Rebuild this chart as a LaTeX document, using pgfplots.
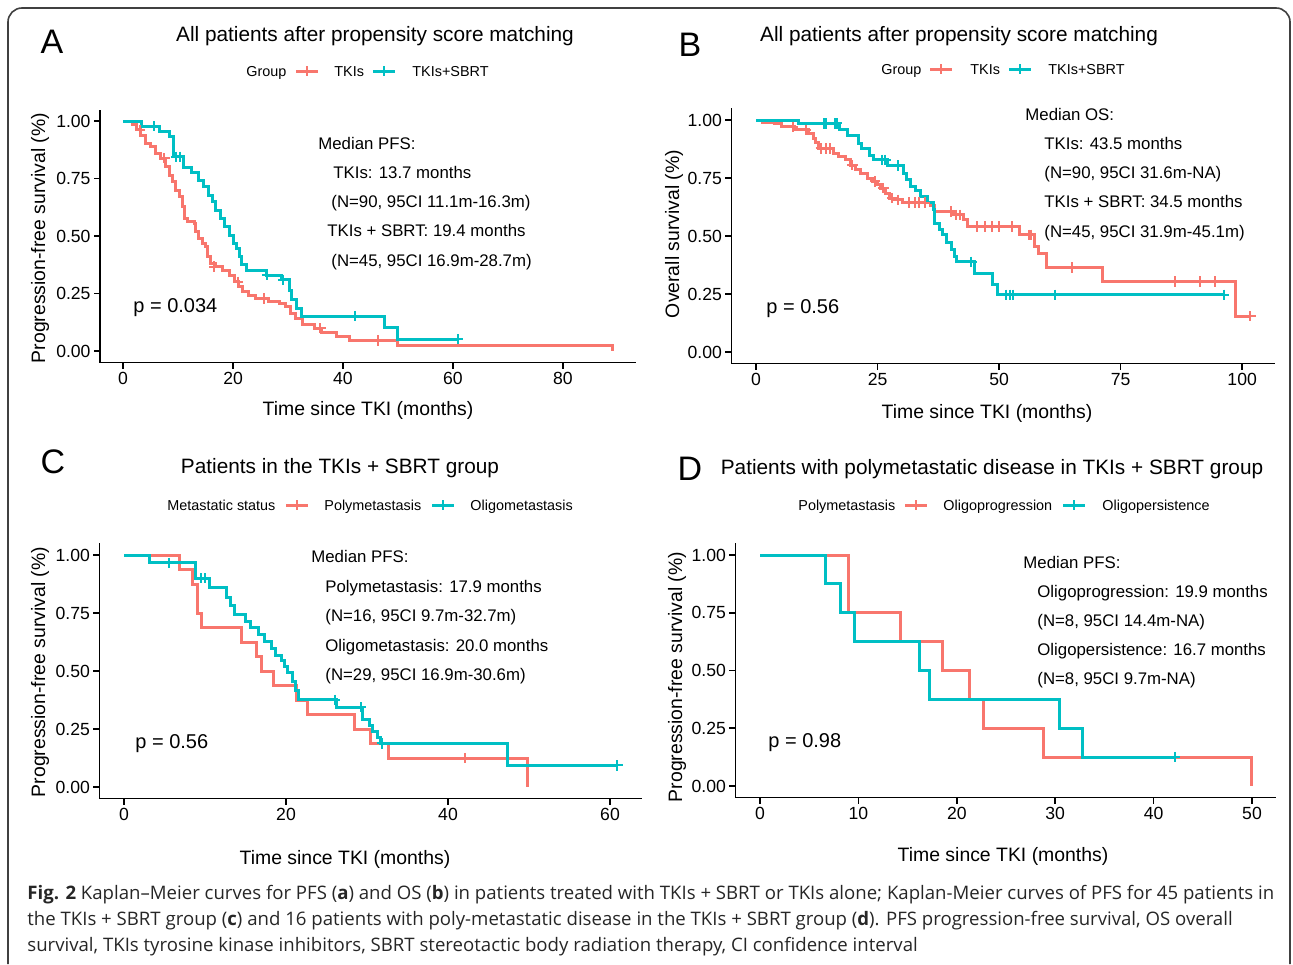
\documentclass[border=0pt]{standalone}
\usepackage{pgfplots}
\pgfplotsset{compat=1.18}
\usepackage{fontspec}
\setmainfont{Liberation Sans}
\newfontfamily\capfont{Open Sans}
\definecolor{kmred}{HTML}{F8766D}
\definecolor{kmcyan}{HTML}{00BFC4}

\newcommand\ftitle{\fontsize{10.4}{12}\selectfont}
\newcommand\fleg{\fontsize{7.2}{8.5}\selectfont}
\newcommand\fann{\fontsize{8.4}{10}\selectfont}
\newcommand\fp{\fontsize{10}{12}\selectfont}
\newcommand\flab{\fontsize{9.7}{11.5}\selectfont}
\newcommand\fletter{\fontsize{17}{20}\selectfont}

\pgfplotsset{
  km/.style={
    scale only axis,
    axis x line*=bottom, axis y line*=left,
    axis line style={line width=0.8pt, -},
    tick style={line width=0.8pt, black},
    tick align=outside,
    major tick length=3pt,
    ymin=-0.05, ymax=1.05,
    ytick={0,0.25,0.5,0.75,1},
    yticklabels={0.00,0.25,0.50,0.75,1.00},
    tick label style={font=\fontsize{8.8}{10}\selectfont},
    yticklabel style={xshift=1.8pt},
    xticklabel style={yshift=1.8pt},
    clip=false,
  },
  kmline/.style={const plot, no marks, line width=1.5pt, #1},
  kmcens/.style={only marks, mark=+, mark size=2.6pt, #1, mark options={line width=1pt}},
}

\begin{document}
\begin{tikzpicture}
\useasboundingbox (0,0) rectangle (646.5pt,-482pt);
\begin{scope}[x=0.5pt,y=-0.5pt]
  \draw[black!75, line width=0.8pt, rounded corners=7pt] (8,964) -- (8,8) -- (1290,8) -- (1290,964);
  % panel letters
  \node[anchor=base, inner sep=0, font=\fletter] at (52,53) {A};
  \node[anchor=base, inner sep=0, font=\fletter] at (690,56) {B};
  \node[anchor=base, inner sep=0, font=\fletter] at (53,473) {C};
  \node[anchor=base, inner sep=0, font=\fletter] at (690,480) {D};
  % titles
  \node[anchor=base, inner sep=0, font=\ftitle] at (375,41) {All patients after propensity score matching};
  \node[anchor=base, inner sep=0, font=\ftitle] at (959,41) {All patients after propensity score matching};
  \node[anchor=base, inner sep=0, font=\ftitle] at (340,473) {Patients in the TKIs + SBRT group};
  \node[anchor=base, inner sep=0, font=\ftitle] at (992,474) {Patients with polymetastatic disease in TKIs + SBRT group};
  % legends
  \begin{scope}[every node/.style={anchor=base west, inner sep=0, font=\fleg}]
    \node at (246,76) {Group};
    \draw[kmred, line width=1.5pt] (296,71) -- (318,71); \draw[kmred, line width=1pt] (307,66) -- (307,76);
    \node at (334,76) {TKIs};
    \draw[kmcyan, line width=1.5pt] (373,71) -- (395,71); \draw[kmcyan, line width=1pt] (384,66) -- (384,76);
    \node at (412,76) {TKIs+SBRT};
    \node at (881,74) {Group};
    \draw[kmred, line width=1.5pt] (930,69) -- (952,69); \draw[kmred, line width=1pt] (941,64) -- (941,74);
    \node at (970,74) {TKIs};
    \draw[kmcyan, line width=1.5pt] (1009,69) -- (1031,69); \draw[kmcyan, line width=1pt] (1020,64) -- (1020,74);
    \node at (1048,74) {TKIs+SBRT};
    \node at (167,510) {Metastatic status};
    \draw[kmred, line width=1.5pt] (286,505) -- (308,505); \draw[kmred, line width=1pt] (297,500) -- (297,510);
    \node at (324,510) {Polymetastasis};
    \draw[kmcyan, line width=1.5pt] (432,505) -- (454,505); \draw[kmcyan, line width=1pt] (443,500) -- (443,510);
    \node at (470,510) {Oligometastasis};
    \node at (798,510) {Polymetastasis};
    \draw[kmred, line width=1.5pt] (905,505) -- (927,505); \draw[kmred, line width=1pt] (916,500) -- (916,510);
    \node at (943,510) {Oligoprogression};
    \draw[kmcyan, line width=1.5pt] (1063,505) -- (1085,505); \draw[kmcyan, line width=1pt] (1074,500) -- (1074,510);
    \node at (1102,510) {Oligopersistence};
  \end{scope}
  % annotations
  \begin{scope}[every node/.style={anchor=base west, inner sep=0, font=\fann}]
    \node at (318,149) {Median PFS:};
    \node at (333,178) {TKIs: 13.7 months};
    \node at (331,207) {(N=90, 95CI 11.1m-16.3m)};
    \node at (327,236) {TKIs + SBRT: 19.4 months};
    \node at (331,266) {(N=45, 95CI 16.9m-28.7m)};
    \node at (1025,120) {Median OS:};
    \node at (1044,149) {TKIs: 43.5 months};
    \node at (1044,178) {(N=90, 95CI 31.6m-NA)};
    \node at (1044,207) {TKIs + SBRT: 34.5 months};
    \node at (1044,237) {(N=45, 95CI 31.9m-45.1m)};
    \node at (311,562) {Median PFS:};
    \node at (325,592) {Polymetastasis: 17.9 months};
    \node at (325,621) {(N=16, 95CI 9.7m-32.7m)};
    \node at (325,651) {Oligometastasis: 20.0 months};
    \node at (325,680) {(N=29, 95CI 16.9m-30.6m)};
    \node at (1023,568) {Median PFS:};
    \node at (1037,597) {Oligoprogression: 19.9 months};
    \node at (1037,626) {(N=8, 95CI 14.4m-NA)};
    \node at (1037,655) {Oligopersistence: 16.7 months};
    \node at (1037,684) {(N=8, 95CI 9.7m-NA)};
  \end{scope}
  \begin{scope}[every node/.style={anchor=base west, inner sep=0, font=\fp}]
    \node at (133,312) {p = 0.034};
    \node at (766,313) {p = 0.56};
    \node at (135,748) {p = 0.56};
    \node at (768,747) {p = 0.98};
  \end{scope}
  % axis titles
  \begin{scope}[every node/.style={anchor=base, inner sep=0, font=\flab}]
    \node at (368,415) {Time since TKI (months)};
    \node at (987,418) {Time since TKI (months)};
    \node at (345,864) {Time since TKI (months)};
    \node at (1003,861) {Time since TKI (months)};
    \node[rotate=90] at (45,238) {Progression-free survival (\%)};
    \node[rotate=90] at (679,234) {Overall survival (\%)};
    \node[rotate=90] at (45,672) {Progression-free survival (\%)};
    \node[rotate=90] at (682,677) {Progression-free survival (\%)};
  \end{scope}
  % caption
  \begin{scope}[every node/.style={anchor=base west, inner sep=0, font=\capfont\fontsize{9.3}{11}\selectfont, text=black!85}]
    \node at (27,899) {\textbf{Fig. 2} Kaplan–Meier curves for PFS (\textbf{a}) and OS (\textbf{b}) in patients treated with TKIs + SBRT or TKIs alone; Kaplan-Meier curves of PFS for 45 patients in};
    \node at (27,925) {the TKIs + SBRT group (\textbf{c}) and 16 patients with poly-metastatic disease in the TKIs + SBRT group (\textbf{d}). PFS progression-free survival, OS overall};
    \node at (27,951) {survival, TKIs tyrosine kinase inhibitors, SBRT stereotactic body radiation therapy, CI confidence interval};
  \end{scope}
\end{scope}

% ---------- A: PFS, all patients ----------
\begin{axis}[km, at={(50pt,-181.25pt)}, anchor=south west, width=268pt, height=126.5pt,
  xmin=-4.2, xmax=93.3, xtick={0,20,40,60,80}, xticklabels={0,20,40,60,80}]
\addplot[kmline=kmred] coordinates {
 (0,1) (1.7,0.983) (2.4,0.961) (3.2,0.939) (4.1,0.903) (5.0,0.888) (5.9,0.859) (6.8,0.838)
 (7.8,0.801) (8.4,0.765) (9.0,0.736) (9.6,0.70) (10.2,0.671) (10.8,0.628) (11.1,0.577)
 (11.7,0.562) (12.9,0.555) (13.2,0.519) (13.8,0.49) (14.4,0.468) (15.0,0.454) (15.3,0.41)
 (15.9,0.381) (16.8,0.367) (18.1,0.352) (19.3,0.33) (20.2,0.301) (21.0,0.28) (21.7,0.258)
 (22.9,0.243) (24.1,0.229) (26.5,0.214) (28.4,0.207) (29.6,0.193) (30.5,0.164) (31.4,0.142)
 (32.6,0.116) (34.8,0.099) (36.1,0.08) (38.8,0.062) (41.2,0.045) (50,0.022) (89,0)
};
\addplot[kmcens=kmred] coordinates {
 (3.1,0.961) (7.5,0.838) (16.6,0.367) (20.9,0.301) (25.6,0.229) (35.9,0.099) (46.4,0.045)
};
\addplot[kmline=kmcyan] coordinates {
 (0,1) (3.4,0.978) (6.6,0.956) (8.4,0.933) (9.1,0.844) (10.9,0.80) (12.5,0.778) (13.75,0.743)
 (14.7,0.714) (15.6,0.678) (16.25,0.649) (16.9,0.613) (17.8,0.577) (18.4,0.541) (19.4,0.504)
 (20.0,0.468) (20.6,0.446) (21.25,0.41) (21.6,0.374) (22.5,0.352) (26.0,0.33) (28.8,0.309)
 (30.2,0.265) (30.6,0.222) (31.6,0.186) (32.5,0.152) (47.6,0.101) (50.0,0.051) (60.9,0.051)
};
\addplot[kmcens=kmcyan] coordinates {
 (5.6,0.978) (9.7,0.844) (10.3,0.844) (26.2,0.33) (29.1,0.309) (42.1,0.152) (60.9,0.051)
};
\end{axis}

% ---------- B: OS, all patients ----------
\begin{axis}[km, at={(365.65pt,-181.8pt)}, anchor=south west, width=271.9pt, height=127.6pt,
  xmin=-5.09, xmax=106.78, xtick={0,25,50,75,100}, xticklabels={0,25,50,75,100}]
\addplot[kmline=kmred] coordinates {
 (0,1) (1.4,0.99) (3.8,0.983) (5.2,0.971) (8.0,0.957) (10.8,0.943) (11.8,0.921) (12.2,0.902)
 (12.8,0.878) (16.0,0.857) (17.0,0.842) (18.4,0.828) (19.4,0.806) (20.5,0.788) (21.5,0.77)
 (22.9,0.749) (24.0,0.735) (25.0,0.72) (25.7,0.706) (26.7,0.684) (27.4,0.663) (28.5,0.656)
 (30.2,0.644) (35.8,0.63) (36.8,0.605) (40.6,0.591) (42.7,0.57) (43.4,0.541) (54.2,0.505)
 (57.3,0.455) (58.0,0.423) (59.7,0.364) (71.2,0.304) (98.6,0.154) (101.7,0.154)
};
\addplot[kmcens=kmred] coordinates {
 (7.6,0.971) (10.3,0.957) (13.3,0.878) (14.4,0.878) (15.2,0.878) (19.8,0.806) (24.5,0.735)
 (26.2,0.706) (28.0,0.663) (29.3,0.656) (31.5,0.644) (32.6,0.644) (33.6,0.644) (34.8,0.644)
 (40.0,0.605) (41.2,0.591) (42.0,0.591) (45.5,0.541) (47,0.541) (48.5,0.541) (50,0.541)
 (52.6,0.541) (56.1,0.505) (56.6,0.505) (64.9,0.364) (86.2,0.304) (91.3,0.304) (94.4,0.304)
 (101.7,0.154)
};
\addplot[kmline=kmcyan] coordinates {
 (0,1) (8.7,0.985) (17.2,0.96) (18.9,0.935) (21.0,0.9) (21.6,0.878) (23.4,0.845) (24.1,0.828)
 (27.0,0.804) (30.4,0.77) (31.0,0.742) (31.8,0.714) (32.7,0.698) (33.8,0.672) (35.3,0.645)
 (36.4,0.615) (36.8,0.555) (37.7,0.527) (38.4,0.506) (39.2,0.47) (40.2,0.44) (40.8,0.41)
 (41.2,0.389) (45.0,0.339) (48.7,0.293) (49.7,0.246) (96.3,0.246)
};
\addplot[kmcens=kmcyan] coordinates {
 (13.9,0.985) (14.3,0.985) (16.3,0.985) (16.7,0.985) (25.9,0.828) (26.6,0.828) (29.2,0.804)
 (44.3,0.389) (51.5,0.246) (52.2,0.246) (52.9,0.246) (61.4,0.246) (96.3,0.246)
};
\end{axis}

% ---------- C: PFS, TKIs + SBRT group ----------
\begin{axis}[km, at={(49.65pt,-399.3pt)}, anchor=south west, width=271.35pt, height=127.6pt,
  xmin=-3.05, xmax=63.95, xtick={0,20,40,60}, xticklabels={0,20,40,60}]
\addplot[kmline=kmred] coordinates {
 (0,1) (6.8,0.9375) (8.5,0.875) (9.1,0.75) (9.6,0.6875) (14.5,0.625) (16.4,0.5625) (17.0,0.5)
 (18.5,0.4375) (21.3,0.375) (22.6,0.3125) (28.5,0.25) (30.4,0.1875) (32.6,0.125) (49.8,0)
};
\addplot[kmcens=kmred] coordinates {(42.1,0.125)};
\addplot[kmline=kmcyan] coordinates {
 (0,1) (3.2,0.966) (8.8,0.9) (10.6,0.858) (12.7,0.815) (13.1,0.784) (13.7,0.743) (15.0,0.714)
 (15.6,0.686) (16.6,0.657) (17.3,0.628) (18.2,0.598) (18.7,0.569) (19.4,0.545) (19.8,0.52)
 (20.2,0.492) (20.8,0.455) (21.2,0.415) (21.5,0.376) (26.2,0.344) (29.5,0.29) (30.3,0.265)
 (30.7,0.24) (31.3,0.215) (31.7,0.188) (47.4,0.093) (60.9,0.093)
};
\addplot[kmcens=kmcyan] coordinates {
 (5.6,0.966) (9.5,0.9) (10.0,0.9) (26.0,0.376) (29.2,0.344) (31.9,0.188) (60.9,0.093)
};
\end{axis}

% ---------- D: PFS, polymetastatic disease ----------
\begin{axis}[km, at={(367.7pt,-398.775pt)}, anchor=south west, width=270.1pt, height=127.05pt,
  xmin=-2.5, xmax=52.4, xtick={0,10,20,30,40,50}, xticklabels={0,10,20,30,40,50}]
\addplot[kmline=kmred] coordinates {
 (0,1) (9.0,0.75) (14.3,0.625) (18.55,0.5) (21.3,0.375) (22.7,0.25) (28.8,0.125) (49.9,0)
};
\addplot[kmline=kmcyan] coordinates {
 (0,1) (6.65,0.875) (8.2,0.75) (9.65,0.625) (16.2,0.5) (17.2,0.375) (30.4,0.25) (32.8,0.125) (42.2,0.125)
};
\addplot[kmcens=kmcyan] coordinates {(42.2,0.125)};
\end{axis}
\end{tikzpicture}
\end{document}
